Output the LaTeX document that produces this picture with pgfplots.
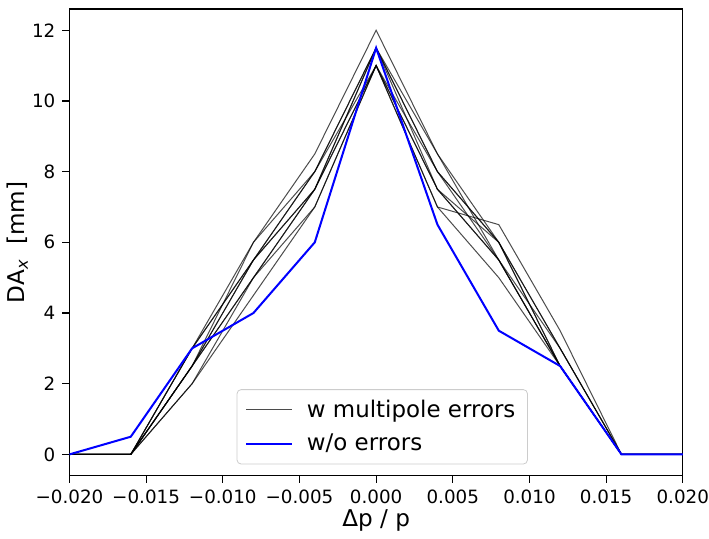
\documentclass[border=0pt]{standalone}
\usepackage{pgfplots}
\pgfplotsset{compat=1.18}
\usepackage{fontspec}
\setmainfont{DejaVu Sans}
\definecolor{mplblue}{RGB}{0,0,255}
\begin{document}
\begin{tikzpicture}
\begin{axis}[
  name=ax,
  scale only axis, width=305pt, height=232pt,
  xmin=-0.02, xmax=0.02, ymin=-0.6, ymax=12.6,
  xtick={-0.02,-0.015,-0.01,-0.005,0,0.005,0.01,0.015,0.02},
  xticklabels={−0.020,−0.015,−0.010,−0.005,0.000,0.005,0.010,0.015,0.020},
  scaled x ticks=false,
  ytick={0,2,4,6,8,10,12},
  /pgf/number format/assume math mode=true,
  tick label style={font=\fontsize{9.1}{11}\selectfont},
  xticklabel style={inner xsep=0pt},
  xlabel={Δp / p}, ylabel={DA\textsubscript{\textit{x}}\ \ [mm]},
  label style={font=\fontsize{11.5}{13}\selectfont},
  xlabel style={at={(axis description cs:0.5,-0.097)}, anchor=center},
  ylabel style={at={(axis description cs:-0.085,0.5)}, anchor=center},
  tick align=outside, xtick pos=bottom, ytick pos=left, major tick length=3.5pt,
  axis line style={line width=0.6pt}, tick style={line width=0.6pt, black},
  legend style={at={(0.51,0.024)}, anchor=south, font=\fontsize{11.4}{13}\selectfont,
    draw=black!20, rounded corners=2pt, fill=white, fill opacity=0.8, text opacity=1,
    cells={anchor=west}, row sep=3pt, column sep=5pt, inner xsep=4pt, inner ysep=3pt},
  legend image code/.code={\draw[#1] (0cm,0cm) -- (0.8cm,0cm);},
]
\addplot[black, opacity=0.7, line width=0.5pt] coordinates {(-0.02,0) (-0.016,0) (-0.012,2.5) (-0.008,6.0) (-0.004,8.5) (0,12.0) (0.004,8.5) (0.008,6.0) (0.012,3.0) (0.016,0) (0.02,0)};
\addlegendentry{w multipole errors}
\addplot[black, opacity=0.7, line width=0.5pt, forget plot] coordinates {(-0.02,0) (-0.016,0) (-0.012,2.0) (-0.008,4.5) (-0.004,7.0) (0,11.0) (0.004,7.0) (0.008,6.5) (0.012,3.5) (0.016,0) (0.02,0)};
\addplot[black, opacity=0.7, line width=0.5pt, forget plot] coordinates {(-0.02,0) (-0.016,0) (-0.012,3.0) (-0.008,5.5) (-0.004,8.0) (0,11.5) (0.004,8.0) (0.008,6.0) (0.012,2.5) (0.016,0) (0.02,0)};
\addplot[black, opacity=0.7, line width=0.5pt, forget plot] coordinates {(-0.02,0) (-0.016,0) (-0.012,2.5) (-0.008,5.0) (-0.004,7.5) (0,11.0) (0.004,7.5) (0.008,5.5) (0.012,2.5) (0.016,0) (0.02,0)};
\addplot[black, opacity=0.7, line width=0.5pt, forget plot] coordinates {(-0.02,0) (-0.016,0) (-0.012,2.5) (-0.008,5.5) (-0.004,7.5) (0,11.5) (0.004,8.5) (0.008,5.5) (0.012,3.0) (0.016,0) (0.02,0)};
\addplot[black, opacity=0.7, line width=0.5pt, forget plot] coordinates {(-0.02,0) (-0.016,0) (-0.012,2.0) (-0.008,5.0) (-0.004,7.5) (0,11.0) (0.004,7.5) (0.008,6.0) (0.012,2.5) (0.016,0) (0.02,0)};
\addplot[black, opacity=0.7, line width=0.5pt, forget plot] coordinates {(-0.02,0) (-0.016,0) (-0.012,3.0) (-0.008,6.0) (-0.004,8.0) (0,11.5) (0.004,8.0) (0.008,5.5) (0.012,2.5) (0.016,0) (0.02,0)};
\addplot[black, opacity=0.7, line width=0.5pt, forget plot] coordinates {(-0.02,0) (-0.016,0) (-0.012,2.5) (-0.008,5.0) (-0.004,7.0) (0,11.0) (0.004,7.0) (0.008,5.0) (0.012,2.5) (0.016,0) (0.02,0)};
\addplot[black, opacity=0.7, line width=0.5pt, forget plot] coordinates {(-0.02,0) (-0.016,0) (-0.012,2.5) (-0.008,5.5) (-0.004,8.0) (0,11.0) (0.004,8.0) (0.008,6.0) (0.012,3.0) (0.016,0) (0.02,0)};
\addplot[black, opacity=0.7, line width=0.5pt, forget plot] coordinates {(-0.02,0) (-0.016,0) (-0.012,3.0) (-0.008,5.5) (-0.004,7.5) (0,11.5) (0.004,7.5) (0.008,5.5) (0.012,2.5) (0.016,0) (0.02,0)};
\addplot[mplblue, line width=1pt] coordinates {(-0.02,0) (-0.016,0.5) (-0.012,3.0) (-0.008,4.0) (-0.004,6.0) (0,11.5) (0.004,6.5) (0.008,3.5) (0.012,2.5) (0.016,0) (0.02,0)};
\addlegendentry{w/o errors}
\end{axis}
\path ([yshift=4.5pt]ax.north);
\end{tikzpicture}
\end{document}
